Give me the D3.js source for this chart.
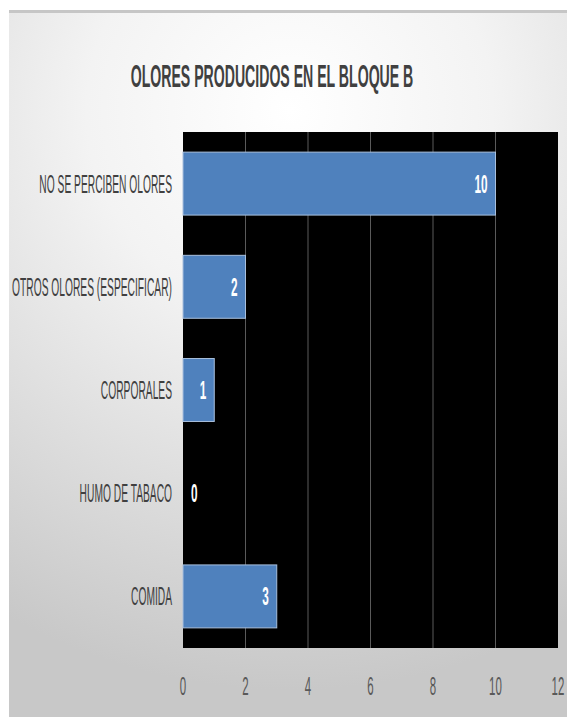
<!DOCTYPE html>
<html>
<head>
<meta charset="utf-8">
<script src="https://cdn.jsdelivr.net/npm/d3@7"></script>
<style>
  body { margin: 0; background: #fff; }
  svg { display: block; }
</style>
</head>
<body>
<div id="chart"></div>
<script>
// datos del grafico
const categorias = ["NO SE PERCIBEN OLORES", "OTROS OLORES (ESPECIFICAR)", "CORPORALES", "HUMO DE TABACO", "COMIDA"];
const valores = [10, 2, 1, 0, 3];
const ticksX = [0, 2, 4, 6, 8, 10, 12];
const titulo = "OLORES PRODUCIDOS EN EL BLOQUE B";

const width = 567, height = 717;
const margin = { top: 132, right: 9, bottom: 69, left: 183 };

const svg = d3.select("#chart").append("svg")
    .attr("width", width)
    .attr("height", height);

// fondo con degradado
const defs = svg.append("defs");
const grad = defs.append("radialGradient")
    .attr("id", "fondo")
    .attr("gradientUnits", "userSpaceOnUse")
    .attr("cx", 290).attr("cy", 110).attr("r", 580);
grad.append("stop").attr("offset", "0%").attr("stop-color", "#ffffff");
grad.append("stop").attr("offset", "35%").attr("stop-color", "#f3f3f3");
grad.append("stop").attr("offset", "100%").attr("stop-color", "#c8c8c8");

svg.append("rect")
    .attr("x", 9).attr("y", 10)
    .attr("width", width - 9).attr("height", height - 10)
    .style("fill", "url(#fondo)");
svg.append("rect")
    .attr("x", 9).attr("y", 10)
    .attr("width", width - 9).attr("height", 3)
    .style("fill", "#c6c6c6");

// texto estrecho (escala horizontal)
function textoEstrecho(g, txt, x, y, size, sx, anchor, color, weight) {
    return g.append("text")
        .attr("transform", `translate(${x},${y}) scale(${sx},1)`)
        .attr("text-anchor", anchor)
        .style("font-family", "'Liberation Sans', Arial, sans-serif")
        .style("font-size", size + "px")
        .style("font-weight", weight || "normal")
        .style("fill", color)
        .text(txt);
}

// titulo
textoEstrecho(svg, titulo, 272, 87, 31, 0.455, "middle", "#404040", "bold");

const x = d3.scaleLinear()
    .domain([0, 12])
    .range([margin.left, width - margin.right]);

const y = d3.scaleBand()
    .domain(categorias)
    .range([margin.top, height - margin.bottom])
    .paddingInner(0.39)
    .paddingOuter(0.195);

// area del grafico negra
svg.append("rect")
    .attr("x", x(0))
    .attr("y", margin.top)
    .attr("width", x(12) - x(0))
    .attr("height", height - margin.bottom - margin.top)
    .style("fill", "#000");

// lineas de cuadricula
svg.selectAll(".grid")
    .data(ticksX.slice(1, -1))
    .enter()
    .append("line")
    .attr("class", "grid")
    .attr("x1", d => x(d)).attr("x2", d => x(d))
    .attr("y1", margin.top).attr("y2", height - margin.bottom)
    .style("stroke", "#5a5a5a")
    .style("stroke-width", 1);

// barras
svg.selectAll(".bar")
    .data(valores)
    .enter()
    .append("rect")
    .attr("class", "bar")
    .attr("x", x(0))
    .attr("y", (d, i) => y(categorias[i]))
    .attr("width", d => x(d) - x(0))
    .attr("height", y.bandwidth())
    .style("fill", "#4f81bd")
    .style("stroke", d => d > 0 ? "#a9c0dd" : "none")
    .style("stroke-width", 1);

// etiquetas de valor
const etiquetas = svg.append("g");
valores.forEach((d, i) => {
    const cy = y(categorias[i]) + y.bandwidth() / 2 + 9;
    if (d > 0) {
        textoEstrecho(etiquetas, d, x(d) - 8, cy, 25, 0.47, "end", "#ffffff", "bold");
    } else {
        textoEstrecho(etiquetas, d, x(0) + 8, cy, 25, 0.47, "start", "#ffffff", "bold");
    }
});

// etiquetas de categoria
const ejeY = svg.append("g");
categorias.forEach(c => {
    textoEstrecho(ejeY, c, x(0) - 11, y(c) + y.bandwidth() / 2 + 9, 25, 0.41, "end", "#404040");
});

// eje x
const ejeX = svg.append("g");
ticksX.forEach(t => {
    textoEstrecho(ejeX, t, x(t), 695, 25.5, 0.45, "middle", "#595959");
});
</script>
</body>
</html>
